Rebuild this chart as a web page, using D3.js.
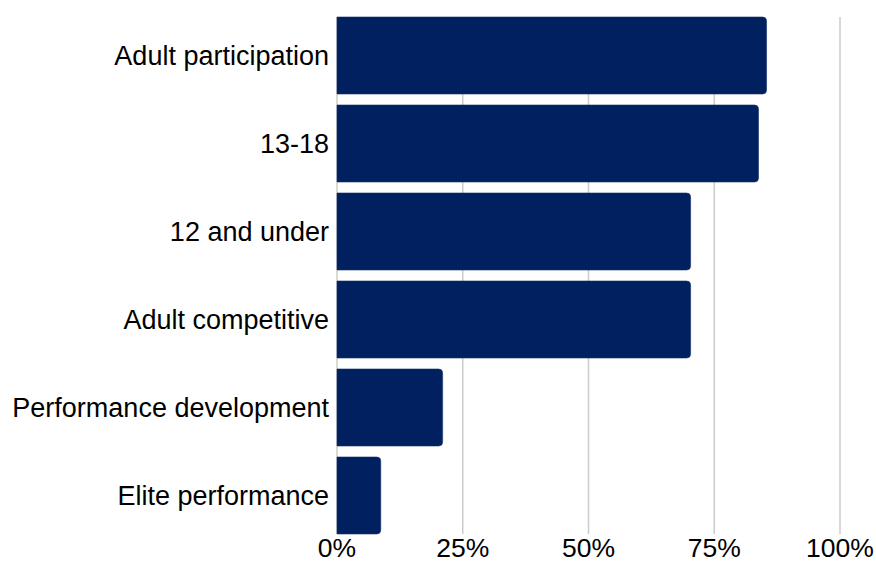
<!DOCTYPE html>
<html>
<head>
<meta charset="utf-8">
<script src="https://cdn.jsdelivr.net/npm/d3@7"></script>
<style>
  html, body { margin: 0; padding: 0; background: #fff; }
  svg { display: block; }
  text { font-family: "Liberation Sans", Arial, sans-serif; fill: #000; }
</style>
</head>
<body>
<svg id="chart" width="876" height="561"></svg>
<script>
// Share of each group (percent)
const categories = [
  "Adult participation",
  "13-18",
  "12 and under",
  "Adult competitive",
  "Performance development",
  "Elite performance"
];
const values = [85.4, 83.8, 70.3, 70.3, 21.0, 8.7];
const tickValues = [0, 25, 50, 75, 100];
const tickLabels = ["0%", "25%", "50%", "75%", "100%"];

const svg = d3.select("#chart");
const plot = { left: 337, right: 840, top: 17, bottom: 534 };

const x = d3.scaleLinear().domain([0, 100]).range([plot.left, plot.right]);
const y = d3.scaleBand()
  .domain(categories)
  .range([plot.top, plot.bottom])
  .paddingInner(0.125)
  .paddingOuter(0);

// vertical gridlines
svg.append("g")
  .selectAll("line")
  .data(tickValues)
  .join("line")
  .attr("x1", d => x(d)).attr("x2", d => x(d))
  .attr("y1", plot.top).attr("y2", plot.bottom)
  .attr("stroke", "#cccccc")
  .attr("stroke-width", 1.5);

// bars, rounded on the value end only
const r = 4;
function barPath(d, i) {
  const x0 = x(0), x1 = x(values[i]);
  const y0 = y(d), h = y.bandwidth();
  const rr = Math.min(r, (x1 - x0) / 2);
  return `M${x0},${y0}H${x1 - rr}Q${x1},${y0} ${x1},${y0 + rr}` +
         `V${y0 + h - rr}Q${x1},${y0 + h} ${x1 - rr},${y0 + h}H${x0}Z`;
}
svg.append("g")
  .selectAll("path")
  .data(categories)
  .join("path")
  .attr("d", barPath)
  .attr("fill", "#002060")
  .attr("stroke", "#14306a")
  .attr("stroke-width", 0.6);

// category labels
svg.append("g")
  .selectAll("text")
  .data(categories)
  .join("text")
  .attr("x", plot.left - 8)
  .attr("y", d => y(d) + y.bandwidth() / 2)
  .attr("dy", "0.34em")
  .attr("text-anchor", "end")
  .attr("font-size", 27)
  .text(d => d);

// x tick labels
svg.append("g")
  .selectAll("text")
  .data(tickValues)
  .join("text")
  .attr("x", d => x(d))
  .attr("y", 557)
  .attr("text-anchor", "middle")
  .attr("font-size", 26.5)
  .text((d, i) => tickLabels[i]);
</script>
</body>
</html>
